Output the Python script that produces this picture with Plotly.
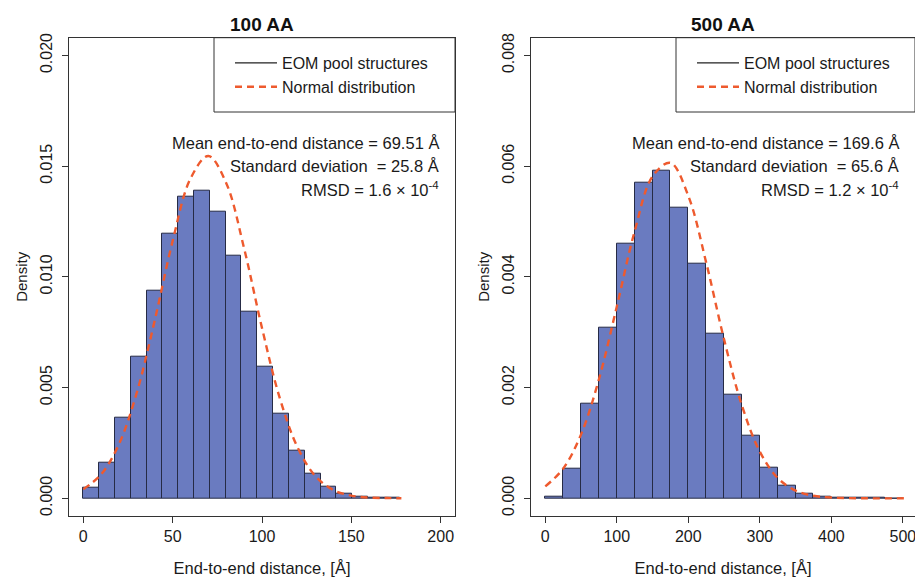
import plotly.graph_objects as go

# ---------------- data ----------------
left_title = "100 AA"
right_title = "500 AA"

left_bin_edges = [0, 8.85, 17.7, 26.55, 35.4, 44.25, 53.1, 61.95, 70.8, 79.65, 88.5,
                  97.35, 106.2, 115.05, 123.9, 132.75, 141.6, 150.45, 159.3, 168.15, 177.0]
left_density = [0.00048, 0.00161, 0.00366, 0.00641, 0.00938, 0.01194, 0.01360, 0.01390,
                0.01296, 0.01097, 0.00844, 0.00594, 0.00380, 0.00216, 0.00113, 0.00051,
                0.00020, 0.00008, 0.00002, 0.00001]
left_curve_x = [0, 10, 20, 30, 40, 50, 60, 70, 80, 90, 100, 110, 120, 130, 140, 150, 160, 170, 178]
left_curve_y = [0.00041, 0.00108, 0.00245, 0.00479, 0.00804, 0.01162, 0.01444, 0.01546,
                0.01423, 0.01128, 0.00769, 0.00451, 0.00228, 0.00099, 0.00037, 0.00012,
                0.00003, 0.00001, 0.0]

right_bin_edges = [0, 25, 50, 75, 100, 125, 150, 175, 200, 225, 250, 275, 300, 325, 350,
                   375, 400, 425, 450, 475, 500]
right_density = [0.00003, 0.00053, 0.00171, 0.00309, 0.00460, 0.00570, 0.00592, 0.00525,
                 0.00424, 0.00298, 0.00188, 0.00113, 0.00055, 0.00023, 0.00009, 0.00003,
                 0.00001, 0.000005, 0.000003, 0.0]
right_curve_x = [0, 25, 50, 75, 100, 125, 150, 175, 200, 225, 250, 275, 300, 325, 350, 375,
                 400, 450, 505]
right_curve_y = [0.000215, 0.000536, 0.001154, 0.00215, 0.003464, 0.004827, 0.005815,
                 0.00606, 0.005462, 0.004257, 0.00287, 0.001673, 0.000843, 0.000367,
                 0.000139, 0.000045, 0.000013, 0.0, 0.0]

left_xticks = [0, 50, 100, 150, 200]
left_yticks = [0.000, 0.005, 0.010, 0.015, 0.020]
right_xticks = [0, 100, 200, 300, 400, 500]
right_yticks = [0.000, 0.002, 0.004, 0.006, 0.008]

left_stats = ["Mean end-to-end distance = 69.51 Å",
              "Standard deviation \u00a0= 25.8 Å",
              "RMSD = 1.6 × 10<sup>-4</sup>"]
right_stats = ["Mean end-to-end distance = 169.6 Å",
               "Standard deviation \u00a0= 65.6 Å",
               "RMSD = 1.2 × 10<sup>-4</sup>"]

legend_names = ["EOM pool structures", "Normal distribution"]
x_title = "End-to-end distance, [Å]"
y_title = "Density"

# ---------------- style ----------------
W, H = 915, 577
FONT = "Liberation Sans, Arial, sans-serif"
BAR_FILL = "#6a7bc0"
BAR_LINE = "#262b45"
CURVE = "#ee5a2e"
AXIS = "#333333"
TXT = "#1a1a1a"


def px_x(p):
    return p / W


def px_y(p):
    return (H - p) / H


fig = go.Figure()


def add_panel(edges, dens, cx, cy, xa, ya, legend_id):
    centers = [(a + b) / 2 for a, b in zip(edges[:-1], edges[1:])]
    widths = [b - a for a, b in zip(edges[:-1], edges[1:])]
    fig.add_trace(go.Bar(x=centers, y=dens, width=widths, xaxis=xa, yaxis=ya,
                         marker=dict(color=BAR_FILL, line=dict(color=BAR_LINE, width=1)),
                         showlegend=False, hoverinfo="x+y"))
    fig.add_trace(go.Scatter(x=[None], y=[None], mode="lines", xaxis=xa, yaxis=ya,
                             name=legend_names[0], legend=legend_id,
                             line=dict(color="#222222", width=1.2)))
    fig.add_trace(go.Scatter(x=cx, y=cy, mode="lines", xaxis=xa, yaxis=ya,
                             name=legend_names[1], legend=legend_id, line_shape="spline",
                             line=dict(color=CURVE, width=2.4, dash="7px,5px")))


add_panel(left_bin_edges, left_density, left_curve_x, left_curve_y, "x", "y", "legend")
add_panel(right_bin_edges, right_density, right_curve_x, right_curve_y, "x2", "y2", "legend2")

ydom = [px_y(516), px_y(37.7)]
axis_common = dict(showgrid=False, zeroline=False, showline=True, linecolor=AXIS,
                   linewidth=1, mirror=True, ticks="outside", ticklen=6, tickwidth=1,
                   tickcolor=AXIS, automargin=False, ticklabeloverflow="allow",
                   tickfont=dict(family=FONT, size=16, color=TXT))
xtitle = dict(text=x_title, font=dict(size=16.5), standoff=18)
ytitle = dict(text=y_title, font=dict(size=15), standoff=6)

fig.update_layout(
    width=W, height=H,
    margin=dict(l=0, r=0, t=0, b=0),
    paper_bgcolor="white", plot_bgcolor="white",
    font=dict(family=FONT, color=TXT),
    bargap=0,
    xaxis=dict(domain=[px_x(69), px_x(455)], range=[-8, 208], tickvals=left_xticks,
               anchor="y", title=xtitle, **axis_common),
    yaxis=dict(domain=ydom, range=[-0.0008, 0.0208], tickvals=left_yticks, tickformat=".3f",
               tickangle=-90, anchor="x", ticklabelstandoff=4, title=ytitle, **axis_common),
    xaxis2=dict(domain=[px_x(531), 1.0], range=[-20, 517], tickvals=right_xticks,
                anchor="y2", title=xtitle, **axis_common),
    yaxis2=dict(domain=ydom, range=[-0.00032, 0.00832], tickvals=right_yticks,
                tickformat=".3f", tickangle=-90, anchor="x2", ticklabelstandoff=4,
                title=ytitle, **axis_common),
    legend=dict(x=px_x(230), y=px_y(46), xanchor="left", yanchor="top",
                bgcolor="rgba(0,0,0,0)", borderwidth=0, itemwidth=42,
                font=dict(family=FONT, size=16, color=TXT)),
    legend2=dict(x=px_x(692), y=px_y(46), xanchor="left", yanchor="top",
                 bgcolor="rgba(0,0,0,0)", borderwidth=0, itemwidth=42,
                 font=dict(family=FONT, size=16, color=TXT)),
    shapes=[
        dict(type="rect", xref="paper", yref="paper", x0=px_x(214), x1=px_x(455),
             y0=px_y(112), y1=px_y(37.7), line=dict(color=AXIS, width=1), fillcolor="white",
             layer="below"),
        dict(type="rect", xref="paper", yref="paper", x0=px_x(676), x1=1.0,
             y0=px_y(112), y1=px_y(37.7), line=dict(color=AXIS, width=1), fillcolor="white",
             layer="below"),
    ],
)

annotations = [
    dict(text="<b>" + left_title + "</b>", x=px_x(262), y=px_y(25), xref="paper", yref="paper",
         xanchor="center", yanchor="middle", showarrow=False,
         font=dict(family=FONT, size=19, color="#111111")),
    dict(text="<b>" + right_title + "</b>", x=px_x(723), y=px_y(25), xref="paper", yref="paper",
         xanchor="center", yanchor="middle", showarrow=False,
         font=dict(family=FONT, size=19, color="#111111")),
]
for i, ypx in enumerate([143, 166, 189]):
    annotations.append(dict(text=left_stats[i], x=px_x(441), y=px_y(ypx), xref="paper",
                            yref="paper", xanchor="right", yanchor="middle", showarrow=False,
                            font=dict(family=FONT, size=16.5, color=TXT)))
    annotations.append(dict(text=right_stats[i], x=px_x(901), y=px_y(ypx), xref="paper",
                            yref="paper", xanchor="right", yanchor="middle", showarrow=False,
                            font=dict(family=FONT, size=16.5, color=TXT)))
fig.update_layout(annotations=annotations)

fig.write_html("out.html", config={"displayModeBar": False},
               post_script="document.body.style.margin='0';document.body.style.overflow='hidden';")
